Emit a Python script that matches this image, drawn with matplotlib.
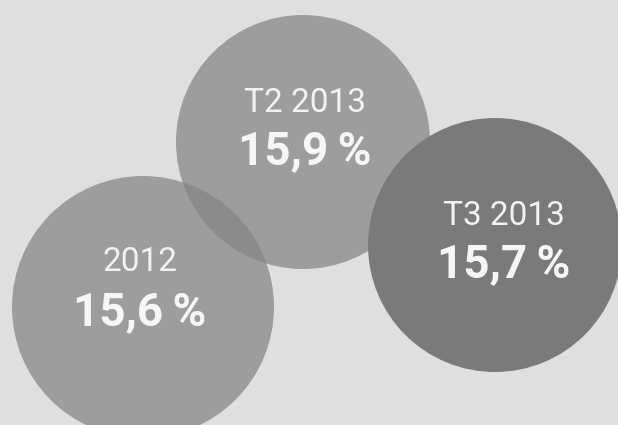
import matplotlib.pyplot as plt
from matplotlib.patches import Circle

# unemployment rate by period
periods = ['2012', 'T2 2013', 'T3 2013']
rates = [15.6, 15.9, 15.7]

# bubble layout in pixels (x, y from top-left), radius
centres = [(143, 307), (303, 142), (495, 245)]
radii = [131, 127, 127]
fills = [('#848484', 0.72), ('#848484', 0.72), ('#7a7a7a', 1.0)]
# label anchor: x, y of period line, y of rate line
label_pos = [(140, 262, 312), (305, 103, 151), (504, 216, 264)]


def fmt_rate(v):
    return f'{v:.1f}'.replace('.', ',') + '\u2009%'


def main():
    fig = plt.figure(figsize=(6.18, 4.25), dpi=100)
    fig.patch.set_facecolor('#dfdfdf')
    ax = fig.add_axes([0, 0, 1, 1])
    ax.set_xlim(0, 618)
    ax.set_ylim(425, 0)
    ax.set_aspect('equal')
    ax.axis('off')

    fam = ['Roboto', 'DejaVu Sans']
    for i, (period, rate) in enumerate(zip(periods, rates)):
        color, alpha = fills[i]
        ax.add_patch(Circle(centres[i], radii[i], facecolor=color,
                            alpha=alpha, edgecolor='none', zorder=i + 1))
        tx, ty1, ty2 = label_pos[i]
        ax.text(tx, ty1, period, ha='center', va='center',
                fontsize=24, color='#f2f2f2', family=fam, zorder=10)
        ax.text(tx, ty2, fmt_rate(rate), ha='center', va='center',
                fontsize=33, fontweight='bold', color='#f6f6f6',
                family=fam, zorder=10)

    fig.savefig('out.png', dpi=100, facecolor=fig.get_facecolor())


if __name__ == '__main__':
    main()
